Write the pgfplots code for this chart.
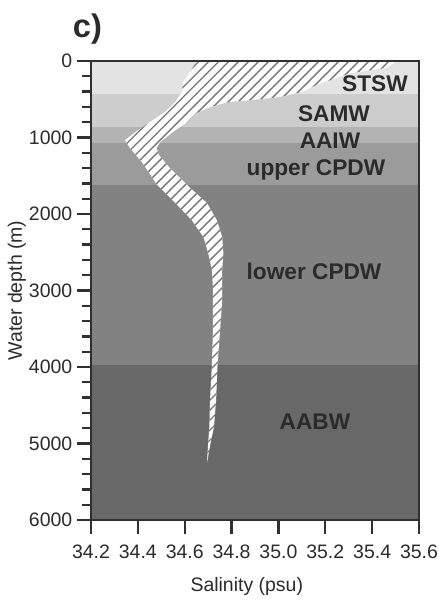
\documentclass[border=0pt]{standalone}
\usepackage{pgfplots}
\pgfplotsset{compat=1.18}
\usepackage{fontspec}
\setmainfont{Liberation Sans}
\usetikzlibrary{patterns.meta}
\definecolor{lA}{HTML}{E3E3E3}
\definecolor{lB}{HTML}{CDCDCD}
\definecolor{lC}{HTML}{B3B3B3}
\definecolor{lD}{HTML}{9B9B9B}
\definecolor{lE}{HTML}{828282}
\definecolor{lF}{HTML}{686868}
\definecolor{txt}{HTML}{2B2B2B}
\definecolor{frame}{HTML}{303030}
\definecolor{hatch}{HTML}{767676}
\begin{document}
\begin{tikzpicture}
\path[use as bounding box] (-68.25pt,-60pt) rectangle (261pt,390pt);
\begin{axis}[
  at={(0,0)}, anchor=south west,
  scale only axis, width=246pt, height=344.25pt,
  xmin=34.2, xmax=35.6, ymin=0, ymax=6000,
  y dir=reverse,
  xtick={34.2,34.4,...,35.6},
  ytick={0,1000,...,6000},
  minor y tick num=4,
  xtick pos=bottom, ytick pos=left,
  tick align=outside,
  major tick length=10.5pt, minor tick length=6.5pt,
  every tick/.style={frame, line width=1.7pt},
  axis line style={frame, line width=1.6pt},
  axis on top,
  x tick label style={yshift=-4.5pt, /pgf/number format/.cd, fixed, fixed zerofill, precision=1, assume math mode=true},
  y tick label style={/pgf/number format/.cd, 1000 sep={}, assume math mode=true},
  tick label style={font=\fontsize{14.6}{17}\selectfont, text=txt},
  label style={font=\fontsize{14.6}{17}\selectfont, text=txt},
  xlabel={Salinity (psu)},
  ylabel={Water depth (m)},
  xlabel style={at={(axis description cs:0.475,-0.145)}, anchor=center},
  ylabel style={at={(axis description cs:-0.226,0.5)}, anchor=center},
  clip=true,
]
% water mass layers
\addplot[fill=lA, draw=none] coordinates {(34.2,0) (35.6,0) (35.6,436) (34.2,436)} --cycle;
\addplot[fill=lB, draw=none] coordinates {(34.2,436) (35.6,436) (35.6,858) (34.2,858)} --cycle;
\addplot[fill=lC, draw=none] coordinates {(34.2,858) (35.6,858) (35.6,1076) (34.2,1076)} --cycle;
\addplot[fill=lD, draw=none] coordinates {(34.2,1076) (35.6,1076) (35.6,1620) (34.2,1620)} --cycle;
\addplot[fill=lE, draw=none] coordinates {(34.2,1620) (35.6,1620) (35.6,3974) (34.2,3974)} --cycle;
\addplot[fill=lF, draw=none] coordinates {(34.2,3974) (35.6,3974) (35.6,6000) (34.2,6000)} --cycle;
% salinity range band
\addplot[fill=white, draw=none, postaction={pattern={Lines[angle=45, distance=5.3pt, line width=1.0pt]}, pattern color=hatch}] coordinates {
(34.652,0) (34.623,140) (34.593,275) (34.588,405) (34.56,535) (34.516,667) (34.45,800) (34.39,928) (34.345,1035) (34.366,1137) (34.417,1320) (34.44,1425) (34.48,1610) (34.56,1856) (34.63,2080) (34.68,2300) (34.70,2510) (34.716,2730) (34.72,2950) (34.72,3125) (34.72,3560) (34.716,3975) (34.708,4430) (34.705,4785) (34.70,5000) (34.695,5250)
(34.71,5000) (34.725,4785) (34.734,4430) (34.74,3975) (34.75,3560) (34.76,3125) (34.76,2950) (34.76,2730) (34.765,2510) (34.76,2300) (34.737,2080) (34.695,1856) (34.62,1650) (34.537,1400) (34.49,1230) (34.48,1137) (34.495,1060) (34.55,928) (34.61,800) (34.65,680) (34.71,600) (34.79,535) (34.89,510) (35.007,470) (35.10,405) (35.165,310) (35.25,220) (35.305,160) (35.46,90) (35.506,0)
} --cycle;
% layer labels
\begin{scope}[every node/.style={font=\bfseries\fontsize{17}{20}\selectfont, text=txt, anchor=base}]
\node at (axis cs:35.412,401) {STSW};
\node at (axis cs:35.237,793) {SAMW};
\node at (axis cs:35.22,1141) {AAIW};
\node at (axis cs:35.16,1503) {upper CPDW};
\node at (axis cs:35.152,2862) {lower CPDW};
\node at (axis cs:35.156,4823) {AABW};
\end{scope}
\end{axis}
\node[font=\bfseries\fontsize{24.5}{28}\selectfont, text=txt, anchor=base west, inner sep=0pt] at (-13.7pt,362pt) {c)};
\end{tikzpicture}
\end{document}
